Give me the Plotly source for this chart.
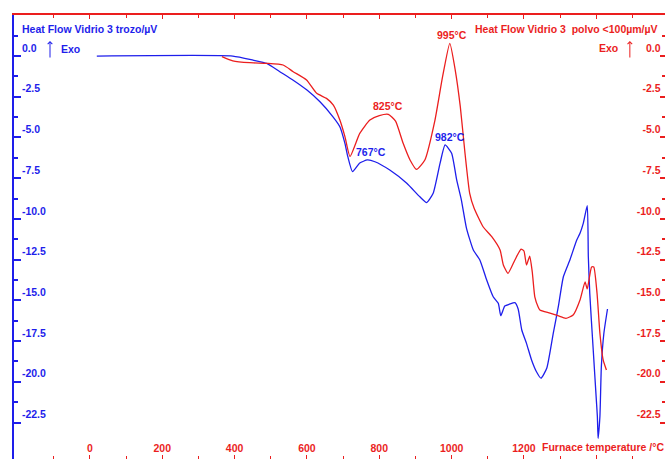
import plotly.graph_objects as go

# DTA heat-flow curves: bulk piece ("trozo") and powder ("polvo <100 µm")
temp_trozo = [19, 395, 451, 489, 525, 561, 600, 636, 672, 691, 705, 713, 726, 746, 767,
              788, 829, 876, 912, 931, 949, 968, 982, 1000, 1014, 1027, 1041, 1060, 1078,
              1097, 1115, 1129, 1136, 1147, 1161, 1175, 1184, 1194, 1207, 1221, 1235, 1247,
              1263, 1281, 1295, 1309, 1327, 1346, 1355, 1364, 1375, 1378, 1382, 1391, 1399,
              1403, 1405, 1410, 1414, 1421, 1431]
hf_trozo = [0.0, 0.0, -0.25, -0.45, -0.96, -1.47, -2.09, -2.81, -3.73, -4.34, -5.36, -6.18,
            -7.10, -6.57, -6.38, -6.49, -7.00, -7.81, -8.64, -9.00, -8.43, -6.59, -5.46,
            -5.97, -7.61, -8.84, -10.56, -11.91, -12.52, -13.75, -14.78, -15.18, -15.94,
            -15.35, -15.22, -15.14, -15.53, -16.82, -17.64, -18.66, -19.40, -19.78, -19.17,
            -17.02, -15.39, -13.55, -12.52, -11.30, -10.88, -10.27, -9.19, -12.32, -14.57,
            -17.85, -20.71, -22.14, -23.47, -22.14, -19.07, -17.02, -15.53]

temp_polvo = [365, 395, 442, 489, 534, 562, 599, 627, 654, 673, 691, 705, 719, 746, 774,
              800, 825, 845, 866, 885, 903, 926, 954, 975, 995, 1010, 1024, 1037, 1050,
              1062, 1087, 1111, 1134, 1143, 1156, 1175, 1192, 1200, 1207, 1216, 1223, 1230,
              1239, 1244, 1272, 1294, 1316, 1336, 1355, 1369, 1375, 1387, 1393, 1402, 1410,
              1419, 1428]
hf_polvo = [-0.03, -0.29, -0.41, -0.45, -0.55, -0.96, -1.47, -2.29, -2.60, -3.01, -3.93,
            -4.95, -6.17, -4.75, -3.93, -3.66, -3.58, -4.00, -5.36, -6.38, -6.96, -6.38,
            -3.93, -1.27, 0.78, -0.86, -3.11, -5.97, -8.43, -9.33, -10.48, -11.09, -11.91,
            -12.83, -13.34, -12.52, -11.85, -11.97, -12.83, -12.28, -13.26, -14.78, -15.39,
            -15.59, -15.78, -15.94, -16.10, -15.90, -14.98, -13.86, -14.30, -12.95, -12.95,
            -14.55, -17.02, -18.66, -19.28]

# Marked peaks (temperature, heat flow)
peaks_trozo = [(767, -6.38), (982, -5.46)]
peaks_polvo = [(825, -3.58), (995, 0.78)]

# Axis ticks
x_ticks = [-200, 0, 200, 400, 600, 800, 1000, 1200, 1400]
x_labels = ["", "0", "200", "400", "600", "800", "1000", "1200", ""]
y_ticks = [0.0, -2.5, -5.0, -7.5, -10.0, -12.5, -15.0, -17.5, -20.0, -22.5]
y_labels = ["0.0", "-2.5", "-5.0", "-7.5", "-10.0", "-12.5", "-15.0", "-17.5", "-20.0", "-22.5"]

BLUE = "rgb(30,30,235)"
RED = "rgb(235,30,30)"
FONT = "Liberation Sans"
FS = 10.5
X_RANGE = [-210, 1590]
Y_RANGE = [-24.74, 2.52]

fig = go.Figure()
fig.add_trace(go.Scatter(x=temp_trozo, y=hf_trozo, mode="lines",
                         line=dict(color=BLUE, width=1.3, shape="spline", smoothing=0.5),
                         yaxis="y", showlegend=False))
fig.add_trace(go.Scatter(x=temp_polvo, y=hf_polvo, mode="lines",
                         line=dict(color=RED, width=1.3, shape="spline", smoothing=0.5),
                         yaxis="y2", showlegend=False))

annotations = []
for (t, v), dx in zip(peaks_trozo, [4, 5]):
    annotations.append(dict(x=t, y=v, xref="x", yref="y", text=f"{t}°C", showarrow=False,
                            xshift=dx, yshift=8, font=dict(family=FONT, size=FS, color=BLUE,
                                                           weight="bold")))
for (t, v), dx in zip(peaks_polvo, [0, 2]):
    annotations.append(dict(x=t, y=v, xref="x", yref="y2", text=f"{t}°C", showarrow=False,
                            xshift=dx, yshift=8, font=dict(family=FONT, size=FS, color=RED,
                                                           weight="bold")))

# Axis titles
annotations.append(dict(x=0.009, y=0.9685, xref="paper", yref="paper", xanchor="left",
                        yanchor="middle", showarrow=False,
                        text="Heat Flow Vidrio 3 trozo/µV",
                        font=dict(family=FONT, size=FS, color=BLUE, weight="bold")))
annotations.append(dict(x=0.993, y=0.9685, xref="paper", yref="paper", xanchor="right",
                        yanchor="middle", showarrow=False,
                        text="Heat Flow Vidrio 3  polvo <100µm/µV",
                        font=dict(family=FONT, size=FS, color=RED, weight="bold")))
annotations.append(dict(x=1244, y=0.027, xref="x", yref="paper", xanchor="left",
                        yanchor="middle", showarrow=False,
                        text="Furnace temperature /°C",
                        font=dict(family=FONT, size=FS, color=RED, weight="bold")))

# Exo direction markers
annotations.append(dict(x=0.0553, y=0.9414, xref="paper", yref="paper", ax=0, ay=18,
                        showarrow=True, arrowhead=4, arrowsize=0.9, arrowwidth=1,
                        arrowcolor=BLUE, text=""))
annotations.append(dict(x=0.069, y=0.9234, xref="paper", yref="paper", xanchor="left",
                        yanchor="middle", showarrow=False, text="Exo",
                        font=dict(family=FONT, size=FS, color=BLUE, weight="bold")))
annotations.append(dict(x=0.946, y=0.9414, xref="paper", yref="paper", ax=0, ay=18,
                        showarrow=True, arrowhead=4, arrowsize=0.9, arrowwidth=1,
                        arrowcolor=RED, text=""))
annotations.append(dict(x=0.931, y=0.9257, xref="paper", yref="paper", xanchor="right",
                        yanchor="middle", showarrow=False, text="Exo",
                        font=dict(family=FONT, size=FS, color=RED, weight="bold")))

tickfont_blue = dict(family=FONT, size=FS, color=BLUE, weight="bold")
tickfont_red = dict(family=FONT, size=FS, color=RED, weight="bold")

fig.update_layout(
    width=665, height=459,
    margin=dict(l=14, r=0, t=15, b=0),
    paper_bgcolor="white", plot_bgcolor="white",
    annotations=annotations,
    xaxis=dict(range=X_RANGE, tickmode="array", tickvals=x_ticks, ticktext=x_labels,
               ticks="inside", ticklen=4, tickcolor=RED, tickwidth=1,
               ticklabelposition="inside", tickfont=tickfont_red,
               showline=True, linecolor=RED, linewidth=1.5, mirror="ticks",
               showgrid=False, zeroline=False,
               minor=dict(tickmode="linear", tick0=0, dtick=100, ticks="inside",
                          ticklen=3, tickcolor=RED, showgrid=False)),
    yaxis=dict(range=Y_RANGE, tickmode="array", tickvals=y_ticks, ticktext=y_labels,
               ticks="inside", ticklen=7, tickcolor=BLUE, tickwidth=1.5,
               ticklabelposition="inside top", ticklabelstandoff=6, tickfont=tickfont_blue,
               showline=True, linecolor=BLUE, linewidth=2,
               showgrid=False, zeroline=False,
               minor=dict(tickmode="linear", tick0=0, dtick=1.25, ticks="inside",
                          ticklen=4, tickcolor=BLUE, showgrid=False)),
    yaxis2=dict(range=Y_RANGE, overlaying="y", side="right", tickmode="array",
                tickvals=y_ticks, ticktext=y_labels,
                ticks="inside", ticklen=5, tickcolor=RED, tickwidth=1.5,
                ticklabelposition="inside top", ticklabelstandoff=3, tickfont=tickfont_red,
                showline=True, linecolor=RED, linewidth=1.5,
                showgrid=False, zeroline=False,
                minor=dict(tickmode="linear", tick0=0, dtick=1.25, ticks="inside",
                           ticklen=3, tickcolor=RED, showgrid=False)),
)

fig.write_html("out.html")
